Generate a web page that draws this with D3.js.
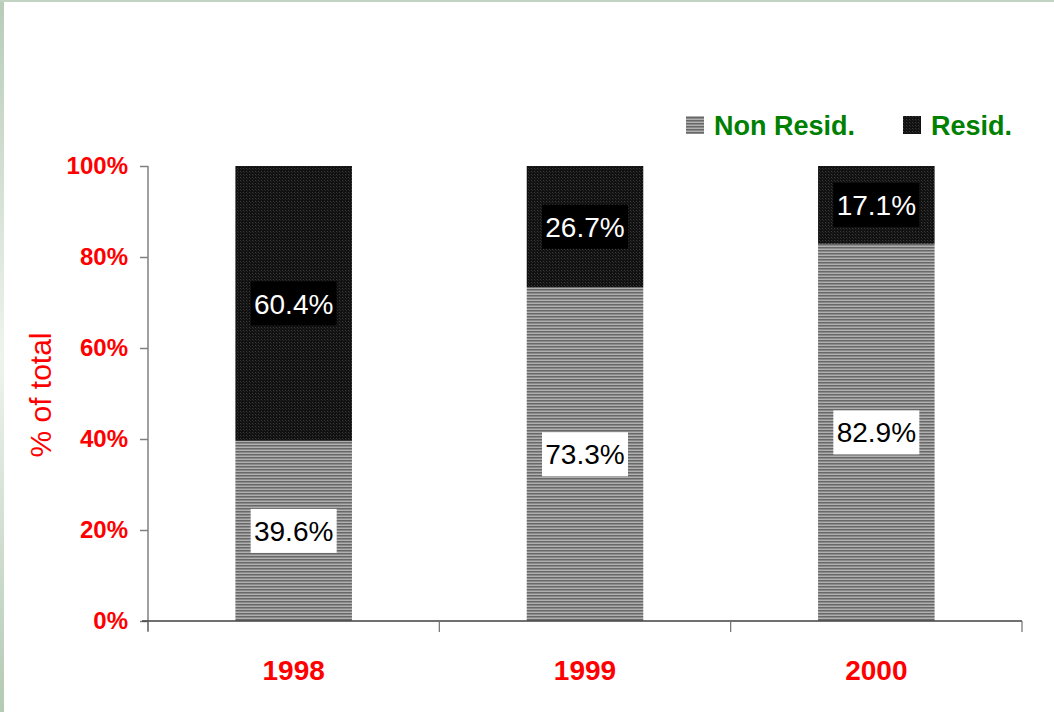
<!DOCTYPE html>
<html>
<head>
<meta charset="utf-8">
<script src="https://cdn.jsdelivr.net/npm/d3@7"></script>
<style>
  body { margin: 0; background: #fff; }
  svg { display: block; }
</style>
</head>
<body>
<svg class="chart"></svg>
<script>
var years = ["1998", "1999", "2000"],
	nonResid = [39.6, 73.3, 82.9],
	resid = [60.4, 26.7, 17.1],
	yTicks = [0, 20, 40, 60, 80, 100],
	seriesNames = ["Non Resid.", "Resid."];

var width = 1054,
	height = 712,
	plotLeft = 148,
	plotRight = 1022,
	plotTop = 166,
	plotBottom = 621;

var svg = d3.select(".chart")
	.attr("width", width)
	.attr("height", height);

var defs = svg.append("defs");

// frame gradient
var lg = defs.append("linearGradient").attr("id", "leftEdge")
	.attr("x1", 0).attr("y1", 0).attr("x2", 0).attr("y2", 1);
lg.append("stop").attr("offset", "0%").attr("stop-color", "#b8ccb8");
lg.append("stop").attr("offset", "50%").attr("stop-color", "#eef3ee");
lg.append("stop").attr("offset", "100%").attr("stop-color", "#b4cab4");

// hatched patterns
var pNon = defs.append("pattern").attr("id", "patNon")
	.attr("patternUnits", "userSpaceOnUse").attr("width", 4).attr("height", 3);
pNon.append("rect").attr("width", 4).attr("height", 3).attr("fill", "#b0b0b0");
pNon.append("rect").attr("y", 1).attr("width", 4).attr("height", 1).attr("fill", "#686868");
pNon.append("rect").attr("y", 2).attr("width", 4).attr("height", 1).attr("fill", "#8a8a8a");

var pRes = defs.append("pattern").attr("id", "patRes")
	.attr("patternUnits", "userSpaceOnUse").attr("width", 3).attr("height", 3);
pRes.append("rect").attr("width", 3).attr("height", 3).attr("fill", "#111111");
pRes.append("rect").attr("width", 1).attr("height", 1).attr("fill", "#3a3a3a");
pRes.append("rect").attr("x", 1).attr("y", 1).attr("width", 1).attr("height", 1).attr("fill", "#262626");

// slide frame
svg.append("rect").attr("x", 0).attr("y", 0).attr("width", 4).attr("height", height)
	.attr("fill", "url(#leftEdge)");
svg.append("rect").attr("x", 0).attr("y", 0).attr("width", width).attr("height", 2)
	.attr("fill", "#c3d3c3");

var x = d3.scaleBand()
	.domain(years)
	.range([plotLeft, plotRight])
	.paddingInner(0.6)
	.paddingOuter(0.3);

var y = d3.scaleLinear()
	.domain([0, 100])
	.range([plotBottom, plotTop]);

var segs = [];
years.forEach(function(yr, i) {
	segs.push({ key: "non", year: yr, y0: 0, y1: nonResid[i], v: nonResid[i] });
	segs.push({ key: "res", year: yr, y0: nonResid[i], y1: Math.min(nonResid[i] + resid[i], 100), v: resid[i] });
});

svg.selectAll(".seg")
	.data(segs)
  .enter().append("rect")
	.attr("class", "seg")
	.attr("x", function(d) { return x(d.year); })
	.attr("width", x.bandwidth())
	.attr("y", function(d) { return y(d.y1); })
	.attr("height", function(d) { return y(d.y0) - y(d.y1); })
	.attr("fill", function(d) { return d.key === "non" ? "url(#patNon)" : "url(#patRes)"; });

// axes
var yAxis = d3.axisLeft(y)
	.tickValues(yTicks)
	.tickSize(8)
	.tickFormat(function(d) { return d + "%"; });

var gy = svg.append("g")
	.attr("transform", "translate(" + plotLeft + ",0)")
	.call(yAxis);
gy.select(".domain").attr("stroke", "#808080").attr("stroke-width", 1.5)
	.attr("d", "M0," + plotTop + "V" + (plotBottom + 10));
gy.selectAll(".tick line").attr("stroke", "#808080").attr("stroke-width", 1.5);
gy.selectAll(".tick text")
	.attr("x", -20)
	.attr("fill", "#ff0000")
	.style("font-family", "Arial, 'Liberation Sans', sans-serif")
	.style("font-weight", "bold")
	.style("font-size", "24px");

var xEdges = d3.scaleLinear().domain([0, years.length]).range([plotLeft, plotRight]);
var gx = svg.append("g");
gx.append("line")
	.attr("x1", plotLeft - 6).attr("x2", plotRight)
	.attr("y1", plotBottom).attr("y2", plotBottom)
	.attr("stroke", "#404040").attr("stroke-width", 1.5);
gx.selectAll(".xt")
	.data(d3.range(years.length + 1))
  .enter().append("line")
	.attr("x1", function(d) { return xEdges(d); })
	.attr("x2", function(d) { return xEdges(d); })
	.attr("y1", plotBottom).attr("y2", plotBottom + 11)
	.attr("stroke", "#707070").attr("stroke-width", 1.2);
gx.selectAll(".xl")
	.data(years)
  .enter().append("text")
	.attr("x", function(d) { return x(d) + x.bandwidth() / 2; })
	.attr("y", 680)
	.attr("text-anchor", "middle")
	.attr("fill", "#ff0000")
	.style("font-family", "Arial, 'Liberation Sans', sans-serif")
	.style("font-weight", "bold")
	.style("font-size", "28px")
	.text(function(d) { return d; });

svg.append("text")
	.attr("transform", "translate(51," + 395 + ") rotate(-90)")
	.attr("text-anchor", "middle")
	.attr("fill", "#ff0000")
	.style("font-family", "Arial, 'Liberation Sans', sans-serif")
	.style("font-size", "30px")
	.text("% of total");

// value labels
var lab = svg.selectAll(".lab")
	.data(segs)
  .enter().append("g")
	.attr("class", "lab")
	.attr("transform", function(d) {
		return "translate(" + (x(d.year) + x.bandwidth() / 2) + "," + y((d.y0 + d.y1) / 2) + ")";
	});
lab.append("rect")
	.attr("x", -43).attr("y", -22)
	.attr("width", 86).attr("height", 44)
	.attr("fill", function(d) { return d.key === "non" ? "#ffffff" : "#000000"; });
lab.append("text")
	.attr("text-anchor", "middle")
	.attr("dy", "0.36em")
	.attr("fill", function(d) { return d.key === "non" ? "#000000" : "#ffffff"; })
	.style("font-family", "Arial, 'Liberation Sans', sans-serif")
	.style("font-size", "28px")
	.text(function(d) { return d.v.toFixed(1) + "%"; });

// legend
var legX = [686, 903];
var leg = svg.selectAll(".leg")
	.data(seriesNames)
  .enter().append("g")
	.attr("class", "leg")
	.attr("transform", function(d, i) { return "translate(" + legX[i] + ",116)"; });
leg.append("rect")
	.attr("width", 18).attr("height", 18)
	.attr("fill", function(d, i) { return i === 0 ? "url(#patNon)" : "url(#patRes)"; });
leg.append("text")
	.attr("x", 28).attr("y", 9)
	.attr("dy", "0.36em")
	.attr("fill", "#008000")
	.style("font-family", "Arial, 'Liberation Sans', sans-serif")
	.style("font-weight", "bold")
	.style("font-size", "27px")
	.text(function(d) { return d; });
</script>
</body>
</html>
